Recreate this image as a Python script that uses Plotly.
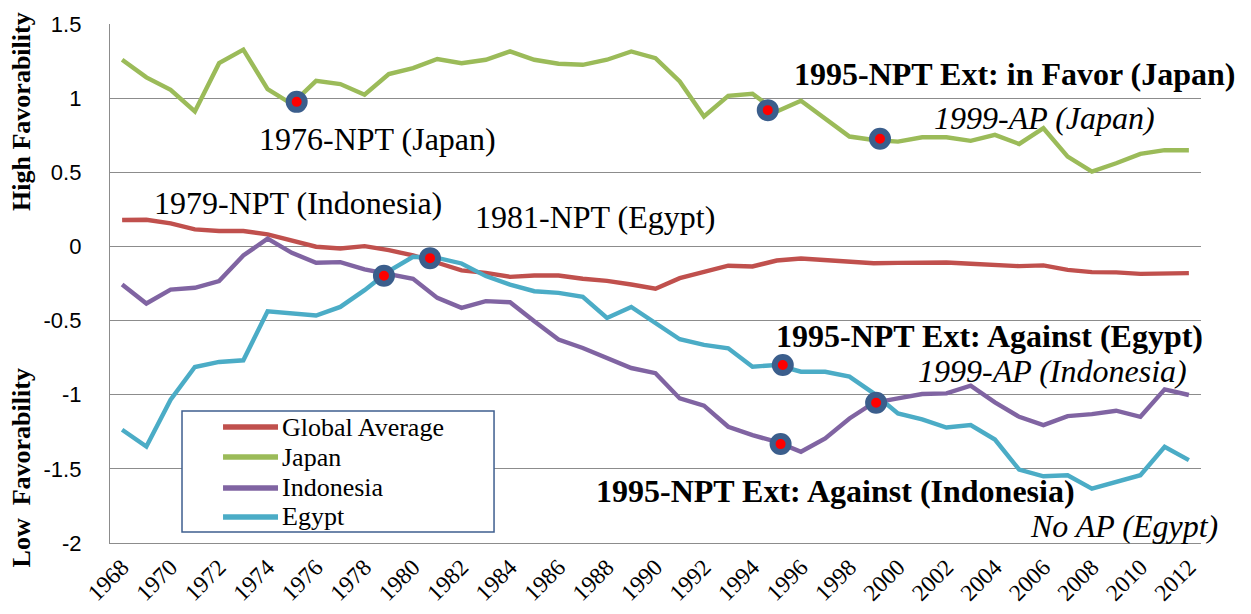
import plotly.graph_objects as go

# ---------------- data ----------------
years = list(range(1968, 2013))

global_avg = [0.178, 0.180, 0.155, 0.115, 0.104, 0.104, 0.081, 0.036, -0.002, -0.014,
              0.002, -0.025, -0.061, -0.110, -0.162, -0.178, -0.205, -0.196, -0.196, -0.218,
              -0.232, -0.257, -0.285, -0.214, -0.169, -0.130, -0.135, -0.095, -0.081, -0.090,
              -0.101, -0.113, -0.111, -0.108, -0.108, -0.117, -0.126, -0.133, -0.128, -0.158,
              -0.173, -0.175, -0.185, -0.183, -0.180]

japan = [1.259, 1.140, 1.056, 0.910, 1.236, 1.327, 1.061, 0.960, 1.117, 1.095,
         1.023, 1.162, 1.203, 1.264, 1.236, 1.259, 1.315, 1.259, 1.232, 1.225,
         1.259, 1.315, 1.270, 1.113, 0.876, 1.016, 1.029, 0.910, 0.982, 0.865,
         0.741, 0.718, 0.707, 0.736, 0.736, 0.712, 0.752, 0.691, 0.797, 0.606,
         0.505, 0.561, 0.624, 0.649, 0.649]

indonesia = [-0.257, -0.385, -0.291, -0.279, -0.234, -0.061, 0.052, -0.043, -0.110, -0.106,
             -0.155, -0.189, -0.218, -0.347, -0.414, -0.369, -0.376, -0.505, -0.628, -0.685,
             -0.752, -0.820, -0.855, -1.025, -1.074, -1.216, -1.273, -1.318, -1.385, -1.295,
             -1.160, -1.054, -1.025, -0.995, -0.991, -0.939, -1.052, -1.149, -1.205, -1.144,
             -1.131, -1.108, -1.149, -0.964, -1.002]

egypt = [-1.236, -1.349, -1.034, -0.813, -0.779, -0.768, -0.437, -0.448, -0.466, -0.408,
         -0.295, -0.167, -0.070, -0.077, -0.115, -0.200, -0.257, -0.302, -0.313, -0.340,
         -0.482, -0.408, -0.520, -0.626, -0.664, -0.687, -0.811, -0.800, -0.845, -0.845,
         -0.878, -0.991, -1.126, -1.167, -1.221, -1.205, -1.302, -1.505, -1.550, -1.543,
         -1.633, -1.588, -1.543, -1.351, -1.441]

series_names = ["Global Average", "Japan", "Indonesia", "Egypt"]
series_values = [global_avg, japan, indonesia, egypt]
series_colors = ["#C0504D", "#9BBB59", "#8064A2", "#4BACC6"]

# event markers (position on the time axis, value)
event_x = [1975.2, 1978.8, 1980.7, 1994.63, 1995.25, 1995.16, 1999.26, 1999.1]
event_y = [0.975, -0.198, -0.079, 0.919, -0.80, -1.333, 0.726, -1.054]

x_tick_vals = list(range(1968, 2013, 2))
x_tick_text = [str(y) for y in x_tick_vals]
y_tick_vals = [1.5, 1, 0.5, 0, -0.5, -1, -1.5, -2]
y_tick_text = ["1.5", "1", "0.5", "0", "-0.5", "-1", "-1.5", "-2"]

# event labels: text, paper x, paper y, anchor
event_labels = [
    ("1976-NPT (Japan)", 0.1347, 0.7784, "left"),
    ("1979-NPT (Indonesia)", 0.0385, 0.6551, "left"),
    ("1981-NPT (Egypt)", 0.3327, 0.6281, "left"),
    ("<b>1995-NPT Ext: in Favor (Japan)</b>", 1.0339, 0.9037, "right"),
    ("<i>1999-AP (Japan)</i>", 0.7534, 0.8189, "left"),
    ("<b>1995-NPT Ext: Against (Egypt)</b>", 1.0037, 0.3980, "right"),
    ("<i>1999-AP (Indonesia)</i>", 0.9890, 0.3320, "right"),
    ("<b>1995-NPT Ext: Against (Indonesia)</b>", 0.4436, 0.0995, "left"),
    ("<i>No AP (Egypt)</i>", 1.0174, 0.0330, "right"),
]

SERIF = "Liberation Serif, Times New Roman, serif"
SANS = "Liberation Sans, Arial, sans-serif"
GRID = "#8C8C8C"

fig = go.Figure()
for name, vals, col in zip(series_names, series_values, series_colors):
    fig.add_trace(go.Scatter(x=years, y=vals, mode="lines", name=name,
                             line=dict(color=col, width=4.4), showlegend=False))

fig.add_trace(go.Scatter(x=event_x, y=event_y, mode="markers", name="Events",
                         marker=dict(size=16, color="#FF0000",
                                     line=dict(color="#3B5E8C", width=6)),
                         showlegend=False))

annotations = []
for text, px, py, anchor in event_labels:
    annotations.append(dict(text=text, xref="paper", yref="paper", x=px, y=py,
                            xanchor=anchor, yanchor="middle", showarrow=False,
                            font=dict(family=SERIF, size=32, color="black")))

# axis titles
annotations.append(dict(text="<b>High Favorability</b>", xref="paper", yref="paper",
                        x=-0.0807, y=0.8324, textangle=-90, showarrow=False,
                        xanchor="center", yanchor="middle",
                        font=dict(family=SERIF, size=26, color="black")))
annotations.append(dict(text="<b>Low \u00a0Favorability</b>", xref="paper", yref="paper",
                        x=-0.0807, y=0.1455, textangle=-90, showarrow=False,
                        xanchor="center", yanchor="middle",
                        font=dict(family=SERIF, size=26, color="black")))

# custom legend box
shapes = [dict(type="rect", xref="paper", yref="paper", x0=0.0660, x1=0.3520,
               y0=0.0212, y1=0.2543, fillcolor="white",
               line=dict(color="#3F5F8F", width=1.5), layer="above")]
legend_rows_y = [0.2235, 0.1657, 0.1060, 0.0501]
for name, col, ly in zip(series_names, series_colors, legend_rows_y):
    shapes.append(dict(type="line", xref="paper", yref="paper", x0=0.1036, x1=0.1540,
                       y0=ly, y1=ly, line=dict(color=col, width=5.5), layer="above"))
    annotations.append(dict(text=name, xref="paper", yref="paper", x=0.1562, y=ly,
                            xanchor="left", yanchor="middle", showarrow=False,
                            font=dict(family=SERIF, size=26, color="black")))

# page body has an 8px margin, so the figure is sized/offset to compensate
fig.update_layout(
    width=1235, height=598,
    margin=dict(l=102, r=42, t=16, b=63, autoexpand=False),
    paper_bgcolor="white", plot_bgcolor="white",
    showlegend=False,
    annotations=annotations,
    shapes=shapes,
    xaxis=dict(range=[1967.5, 2012.5], tickmode="array", tickvals=x_tick_vals,
               ticktext=x_tick_text, tickangle=-45, showgrid=False, zeroline=False,
               showline=True, linecolor=GRID, linewidth=1.3, ticks="",
               automargin=False,
               tickfont=dict(family=SERIF, size=23.5, color="black")),
    yaxis=dict(range=[-2, 1.5], tickmode="array", tickvals=y_tick_vals,
               ticktext=y_tick_text, showgrid=True, gridcolor=GRID, gridwidth=1.3,
               zeroline=False, showline=True, linecolor=GRID, linewidth=1.3,
               ticks="", ticklabelstandoff=23, automargin=False,
               tickfont=dict(family=SANS, size=22, color="black")),
)

fig.write_html("out.html")
